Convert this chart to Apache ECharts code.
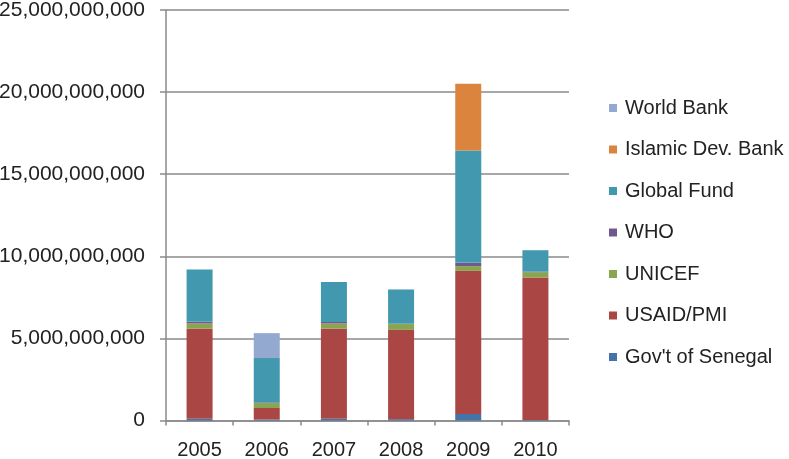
<!DOCTYPE html>
<html>
<head>
<meta charset="utf-8">
<script src="https://cdn.jsdelivr.net/npm/echarts@6/dist/echarts.min.js"></script>
<style>
  html, body { margin: 0; padding: 0; background: #ffffff; }
  #chart { width: 789px; height: 459px; }
</style>
</head>
<body>
<div id="chart"></div>
<script>
const years = ['2005', '2006', '2007', '2008', '2009', '2010'];
const govSenegal = [0.10e9, 0.06e9, 0.10e9, 0.08e9, 0.40e9, 0.03e9];
const usaidPmi   = [5.51e9, 0.70e9, 5.51e9, 5.44e9, 8.71e9, 8.68e9];
const unicef     = [0.30e9, 0.30e9, 0.30e9, 0.35e9, 0.29e9, 0.32e9];
const who        = [0.10e9, 0.04e9, 0.09e9, 0.03e9, 0.20e9, 0.04e9];
const globalFund = [3.19e9, 2.70e9, 2.44e9, 2.08e9, 6.85e9, 1.30e9];
const islamicDev = [0, 0, 0, 0, 4.06e9, 0];
const worldBank  = [0, 1.52e9, 0, 0, 0, 0];
const yTicks = [0, 5e9, 10e9, 15e9, 20e9, 25e9];

const seriesDefs = [
  { name: "Gov't of Senegal", data: govSenegal, color: '#4572A7' },
  { name: 'USAID/PMI', data: usaidPmi, color: '#AA4643' },
  { name: 'UNICEF', data: unicef, color: '#89A54E' },
  { name: 'WHO', data: who, color: '#71588F' },
  { name: 'Global Fund', data: globalFund, color: '#4198AF' },
  { name: 'Islamic Dev. Bank', data: islamicDev, color: '#DB843D' },
  { name: 'World Bank', data: worldBank, color: '#93A9D0' }
];

const font = 'Liberation Sans, Arial, sans-serif';
const chart = echarts.init(document.getElementById('chart'), null, { renderer: 'canvas' });
chart.setOption({
  animation: false,
  backgroundColor: '#ffffff',
  grid: { left: 166, right: 220, top: 10, bottom: 38.5, containLabel: false, outerBoundsMode: 'none' },
  legend: {
    orient: 'vertical',
    left: 604,
    top: 93,
    itemWidth: 8,
    itemHeight: 8,
    itemGap: 21.5,
    icon: 'rect',
    data: seriesDefs.map(s => s.name).reverse(),
    textStyle: { fontFamily: font, fontSize: 20, color: '#222', lineHeight: 20, padding: [0, 0, 0, 3] }
  },
  xAxis: {
    type: 'category',
    data: years,
    axisLine: { lineStyle: { color: '#8a8a8a', width: 1.5 } },
    axisTick: { show: true, length: 5, lineStyle: { color: '#8a8a8a', width: 1.5 } },
    axisLabel: { fontFamily: font, fontSize: 20, color: '#222', margin: 20 }
  },
  yAxis: {
    type: 'value',
    min: yTicks[0],
    max: yTicks[yTicks.length - 1],
    interval: yTicks[1] - yTicks[0],
    axisLine: { show: true, lineStyle: { color: '#8a8a8a', width: 1.5 } },
    axisTick: { show: true, length: 6, lineStyle: { color: '#8a8a8a', width: 1.5 } },
    splitLine: { show: true, lineStyle: { color: '#8a8a8a', width: 1.5 } },
    axisLabel: {
      fontFamily: font, fontSize: 21, color: '#222', margin: 21,
      formatter: v => v.toLocaleString('en-US')
    }
  },
  series: seriesDefs.map(s => ({
    name: s.name,
    type: 'bar',
    stack: 'total',
    barWidth: 26,
    data: s.data,
    itemStyle: { color: s.color }
  }))
});
</script>
</body>
</html>
